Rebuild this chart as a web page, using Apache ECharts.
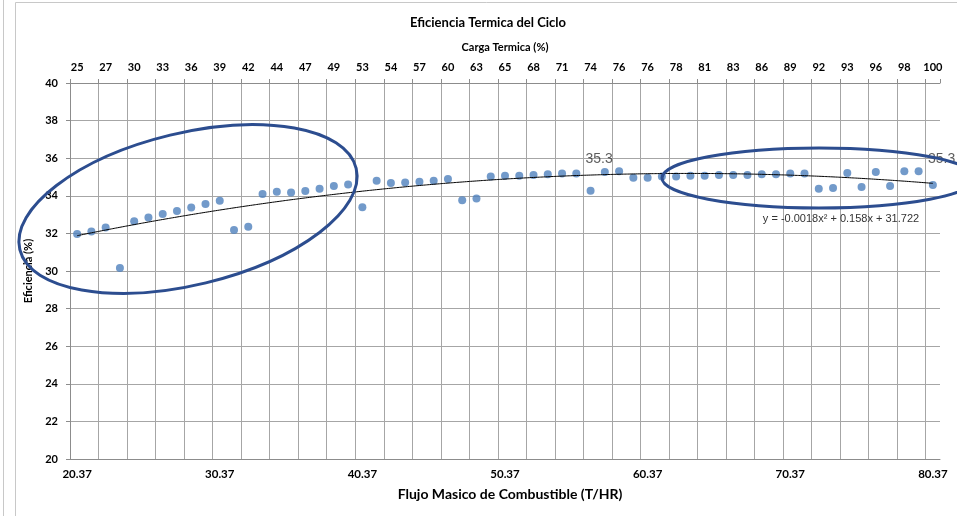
<!DOCTYPE html>
<html>
<head>
<meta charset="utf-8">
<title>Eficiencia Termica del Ciclo</title>
<script src="https://cdn.jsdelivr.net/npm/echarts@6/dist/echarts.min.js"></script>
<style>
    html, body { margin: 0; padding: 0; background: #fff; }
    #chart { width: 957px; height: 516px; }
</style>
</head>
<body>
<div id="chart"></div>
<script>
// flujo masico de combustible (T/HR), eje inferior
var flujo = [
    20.37, 21.37, 22.37, 23.37, 24.37, 25.37, 26.37, 27.37, 28.37, 29.37,
    30.37, 31.37, 32.37, 33.37, 34.37, 35.37, 36.37, 37.37, 38.37, 39.37,
    40.37, 41.37, 42.37, 43.37, 44.37, 45.37, 46.37, 47.37, 48.37, 49.37,
    50.37, 51.37, 52.37, 53.37, 54.37, 55.37, 56.37, 57.37, 58.37, 59.37,
    60.37, 61.37, 62.37, 63.37, 64.37, 65.37, 66.37, 67.37, 68.37, 69.37,
    70.37, 71.37, 72.37, 73.37, 74.37, 75.37, 76.37, 77.37, 78.37, 79.37,
    80.37
];

// eficiencia (%)
var eficiencia = [
    31.97, 32.10, 32.32, 30.16, 32.64, 32.85, 33.03, 33.19, 33.38, 33.56,
    33.74, 32.18, 32.36, 34.10, 34.22, 34.18, 34.26, 34.38, 34.52, 34.60,
    33.39, 34.80, 34.68, 34.71, 34.75, 34.80, 34.89, 33.76, 33.85, 35.02,
    35.07, 35.07, 35.10, 35.14, 35.18, 35.18, 34.27, 35.27, 35.30, 34.96,
    34.96, 35.02, 35.03, 35.07, 35.07, 35.10, 35.10, 35.10, 35.14, 35.14,
    35.18, 35.18, 34.38, 34.41, 35.21, 34.47, 35.27, 34.52, 35.30, 35.30,
    34.57
];

// carga termica (%), eje superior (una etiqueta cada dos categorias)
var cargaTermica = [25, 27, 30, 33, 36, 39, 42, 44, 47, 49, 53, 54, 57, 60, 63, 65,
    68, 71, 74, 76, 76, 78, 81, 83, 86, 89, 92, 93, 96, 98, 100];

// linea de tendencia polinomica (x = numero de categoria): a*x^2 + b*x + c
var tendenciaCoef = [-0.0018, 0.158, 31.722];

// puntos con etiqueta de valor
var etiquetados = [38, 59];

var grisEje = '#8c8c8c';
var grisRejilla = '#a6a6a6';
var fuente = 'Lato';

var categoriasSup = [];
flujo.forEach(function (v, i) {
    categoriasSup.push(i % 2 === 0 ? String(cargaTermica[i / 2]) : '');
});

var tendencia = flujo.map(function (v, i) {
    var x = i + 1;
    return tendenciaCoef[0] * x * x + tendenciaCoef[1] * x + tendenciaCoef[2];
});

var offsets = {38: [-20, 0], 59: [23, 0]};
var puntos = eficiencia.map(function (v, i) {
    var item = {value: v};
    if (etiquetados.indexOf(i) >= 0) {
        item.label = {show: true, offset: offsets[i]};
    }
    return item;
});

var myChart = echarts.init(document.getElementById('chart'));

var option = {
    backgroundColor: '#fff',
    animation: false,
    title: {
        text: 'Eficiencia Termica del Ciclo',
        left: 405,
        top: 11,
        textStyle: {fontFamily: fuente, fontSize: 13, fontWeight: 'bold', color: '#000'}
    },
    grid: {left: 70, top: 83, width: 870, height: 376},
    xAxis: [{
        type: 'category',
        position: 'bottom',
        data: flujo.map(function (v) { return v.toFixed(2); }),
        boundaryGap: true,
        name: 'Flujo Masico de Combustible (T/HR)',
        nameLocation: 'middle',
        nameGap: 28,
        nameTextStyle: {fontFamily: fuente, fontSize: 14, fontWeight: 'bold', color: '#000', padding: [0, 0, 0, 10]},
        axisLine: {lineStyle: {color: grisEje}},
        axisTick: {show: false},
        axisLabel: {interval: 9, margin: 9, fontFamily: fuente, fontSize: 11.5, fontWeight: 'bold', color: '#000'},
        splitLine: {show: true, interval: 1, showMaxLine: false, lineStyle: {color: grisRejilla, width: 1}}
    }, {
        type: 'category',
        position: 'top',
        data: categoriasSup,
        boundaryGap: true,
        name: 'Carga Termica (%)',
        nameLocation: 'middle',
        nameGap: 30,
        nameTextStyle: {fontFamily: fuente, fontSize: 11, fontWeight: 'bold', color: '#000'},
        axisLine: {lineStyle: {color: grisEje}},
        axisTick: {show: true, interval: 1, length: 4, lineStyle: {color: grisEje}},
        axisLabel: {interval: 1, margin: 10, fontFamily: fuente, fontSize: 11, fontWeight: 'bold', color: '#000'},
        splitLine: {show: false}
    }],
    yAxis: {
        type: 'value',
        min: 20,
        max: 40,
        interval: 2,
        name: 'Eficiencia (%)',
        nameLocation: 'middle',
        nameGap: 25,
        nameTextStyle: {fontFamily: fuente, fontSize: 11, fontWeight: 'bold', color: '#000'},
        axisLine: {show: true, lineStyle: {color: grisEje}},
        axisTick: {show: true, length: 4, lineStyle: {color: grisEje}},
        axisLabel: {margin: 12, fontFamily: fuente, fontSize: 11, fontWeight: 'bold', color: '#000'},
        splitLine: {show: true, lineStyle: {color: grisRejilla, width: 1}}
    },
    series: [{
        name: 'Eficiencia',
        type: 'scatter',
        xAxisIndex: 0,
        symbol: 'circle',
        symbolSize: 8,
        itemStyle: {color: '#4f81bd'},
        label: {
            show: false,
            position: 'top',
            distance: 1,
            fontFamily: 'Liberation Sans',
            fontSize: 14,
            color: '#333',
            formatter: function (p) { return p.value.toFixed(1); }
        },
        data: puntos,
        z: 2
    }, {
        name: 'Tendencia',
        type: 'line',
        xAxisIndex: 0,
        smooth: true,
        showSymbol: false,
        lineStyle: {color: '#000', width: 1},
        data: tendencia,
        z: 3
    }],
    graphic: [{
        type: 'rect',
        shape: {x: 15.5, y: 2.5, width: 960, height: 530},
        style: {fill: 'none', stroke: '#c8c8c8', lineWidth: 1},
        z: -10
    }, {
        type: 'line',
        shape: {x1: 3.5, y1: 0, x2: 3.5, y2: 516},
        style: {stroke: '#c8c8c8', lineWidth: 1},
        z: -10
    }, {
        type: 'text',
        x: 841,
        y: 219,
        style: {
            text: 'y = -0.0018x² + 0.158x + 31.722',
            fontFamily: 'Liberation Sans',
            fontSize: 11,
            fill: '#333',
            textAlign: 'center',
            textVerticalAlign: 'middle'
        },
        z: 50
    }, {
        type: 'ellipse',
        x: 188,
        y: 209,
        rotation: 0.237,
        shape: {cx: 0, cy: 0, rx: 173, ry: 76},
        style: {fill: 'none', stroke: '#2c4d8f', lineWidth: 3},
        z: 100
    }, {
        type: 'ellipse',
        x: 819,
        y: 178,
        shape: {cx: 0, cy: 0, rx: 157, ry: 30},
        style: {fill: 'none', stroke: '#2c4d8f', lineWidth: 3},
        z: 100
    }]
};

myChart.setOption(option);
</script>
</body>
</html>
